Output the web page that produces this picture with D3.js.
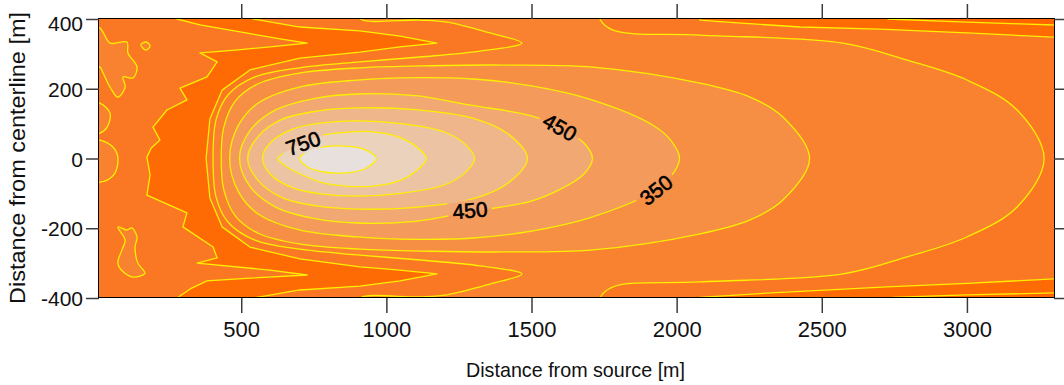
<!DOCTYPE html>
<html><head><meta charset="utf-8">
<script src="https://cdn.jsdelivr.net/npm/d3@7"></script>
<style>
html,body{margin:0;padding:0;background:#fff;}
svg{display:block;font-family:"Liberation Sans",Arial,sans-serif;}
</style></head><body>
<svg id="chart" width="1064" height="385"></svg>
<script>
// Axis ticks
const xTicks = [500, 1000, 1500, 2000, 2500, 3000];
const yTicks = [-400, -200, 0, 200, 400];

// Contour levels and the fill of each band (below first level ... above last level)
const levels = [-50, 50, 150, 250, 350, 450, 550, 650, 750, 850];
const bandColors = ["#ff6400", "#fe6b04", "#fa7824", "#f8822f", "#f68e44", "#f49b5b",
                    "#f2a873", "#efb68b", "#edc4a3", "#ebd2bd", "#e8e0dc"];

// Contour rings, [distance from source m, distance from centerline m]
// below 50: band between the source-side noise and the plume, and the far corners
const below50 = [
  [[279,430],[279,400],[358,383],[496,363],[634,343],[727,331],[599,320],[479,311],[358,303],
   [417,277],[382,234],[289,202],[313,168],[244,139],[196,90],[220,53],[190,30],[175,4],
   [186,-47],[175,-105],[313,-156],[299,-196],[403,-254],[417,-285],[348,-300],[599,-320],
   [727,-334],[530,-343],[382,-351],[324,-374],[279,-400],[279,-430],[541,-430],[541,-400],
   [702,-377],[909,-366],[1047,-351],[1174,-331],[1047,-320],[909,-311],[702,-288],[530,-254],
   [434,-196],[392,-113],[379,0],[392,113],[434,196],[530,254],[702,288],[909,305],[1047,320],
   [1174,331],[1047,351],[909,366],[702,377],[541,400],[541,430]],
  [[2060,430],[2081,397],[2173,391],[2425,377],[2701,371],[3000,360],[3297,348],[3330,347],[3330,430]],
  [[2060,-430],[2081,-398],[2311,-386],[2725,-368],[3000,-358],[3330,-344],[3330,-430]]
];
// below -50 along the far edges
const belowMinus50 = [
  [[2710,430],[2728,400],[3000,391],[3183,386],[3330,382],[3330,430]],
  [[2730,-430],[2745,-398],[3000,-391],[3330,-385],[3330,-430]]
];
// patches above 150 near the source
const patches150 = [
  [[-20,374],[13,374],[48,331],[106,334],[110,302],[141,262],[127,231],[93,234],[100,205],
   [75,176],[48,205],[24,245],[13,262],[-20,262]],
  [[154,326],[172,334],[186,323],[172,311]],
  [[75,-196],[106,-205],[123,-199],[141,-225],[134,-254],[144,-300],[168,-329],[127,-340],
   [93,-325],[75,-300],[89,-262],[100,-234]],
  [[-20,53],[13,53],[58,33],[75,4],[65,-42],[38,-62],[13,-68],[-20,-68]],
  [[-20,159],[13,159],[48,130],[38,90],[13,73],[-20,73]]
];
const above150 = [
  [[403,0],[413,110],[454,182],[547,234],[702,260],[909,277],[1116,291],[1323,308],[1467,331],
   [1357,360],[1209,391],[1116,397],[909,401],[909,430],[1736,430],[1736,400],[1781,368],
   [2081,354],[2573,331],[2794,282],[3000,225],[3173,139],[3266,0],[3173,-139],[3000,-225],
   [2794,-282],[2573,-331],[2081,-354],[1781,-368],[1736,-400],[1736,-430],[909,-430],[909,-401],
   [1116,-397],[1209,-391],[1357,-360],[1467,-331],[1323,-308],[1116,-291],[909,-277],[702,-260],
   [547,-234],[454,-182],[413,-110]]
];
const above250 = [
  [[431,0],[440,90],[480,165],[560,215],[700,245],[909,260],[1150,266],[1400,268],[1712,262],
   [2081,216],[2253,176],[2366,119],[2458,0],[2366,-119],[2253,-176],[2081,-216],[1712,-262],
   [1400,-268],[1150,-266],[909,-260],[700,-245],[560,-215],[480,-165],[440,-90]]
];
const above350 = [
  [[460,0],[490,95],[560,160],[700,205],[900,225],[1100,232],[1300,228],[1500,208],[1700,170],
   [1917,96],[1980,52],[2010,0],[1980,-52],[1917,-96],[1700,-170],[1500,-208],[1300,-228],
   [1100,-232],[900,-225],[700,-205],[560,-160],[490,-95]]
];
const above450 = [
  [[494,0],[530,80],[620,140],[750,172],[900,185],[1100,180],[1290,153],[1500,122],[1600,88],
   [1680,45],[1710,0],[1680,-45],[1600,-88],[1500,-122],[1290,-153],[1100,-180],[900,-185],
   [750,-172],[620,-140],[530,-80]]
];
const above550 = [
  [[522,0],[560,65],[640,112],[760,136],[900,145],[1100,140],[1300,115],[1420,70],[1486,0],
   [1420,-70],[1300,-115],[1100,-140],[900,-145],[760,-136],[640,-112],[560,-65]]
];
const above650 = [
  [[573,0],[600,45],[680,85],[780,102],[900,108],[1050,100],[1200,76],[1270,42],[1304,0],
   [1270,-42],[1200,-76],[1050,-100],[900,-108],[780,-102],[680,-85],[600,-45]]
];
const above750 = [
  [[625,0],[650,18],[713,44],[782,67],[860,75],[944,77],[1030,65],[1090,42],[1138,0],
   [1090,-44],[1030,-68],[944,-80],[860,-79],[782,-70],[713,-48],[650,-20]]
];
const above850 = [
  [[701,0],[730,22],[780,33],[830,36],[880,34],[930,24],[966,0],[930,-28],[880,-40],
   [830,-42],[780,-38],[730,-25]]
];

// Contour labels: level, position (m), text angle (deg)
const labelLevels = [750, 450, 450, 350];
const labelPos = [[713, 44], [1598, 90], [1288, -148], [1929, -90]];
const labelAngles = [-20, 30, -5, -38];

const W = 1064, H = 385;
const plot = {left: 99, right: 1054, top: 19, bottom: 298};

const svg = d3.select("#chart");
const x = d3.scaleLinear().domain([10, 3300]).range([plot.left, plot.right]);
const y = d3.scaleLinear().domain([-400, 400]).range([plot.bottom, plot.top]);

const defs = svg.append("defs");
defs.append("clipPath").attr("id", "plotClip")
  .append("rect").attr("x", plot.left).attr("y", plot.top)
  .attr("width", plot.right - plot.left).attr("height", plot.bottom - plot.top);

const smooth = d3.line().x(d => x(d[0])).y(d => y(d[1])).curve(d3.curveCatmullRomClosed.alpha(0.5));
const jagged = d3.line().x(d => x(d[0])).y(d => y(d[1])).curve(d3.curveLinearClosed);

// fill layers, painted from the lowest band upwards over the 50-150 base
const layers = [
  {rings: below50, color: bandColors[1], line: jagged},
  {rings: belowMinus50, color: bandColors[0], line: jagged},
  {rings: patches150, color: bandColors[3], line: smooth},
  {rings: above150, color: bandColors[3], line: smooth},
  {rings: above250, color: bandColors[4], line: smooth},
  {rings: above350, color: bandColors[5], line: smooth},
  {rings: above450, color: bandColors[6], line: smooth},
  {rings: above550, color: bandColors[7], line: smooth},
  {rings: above650, color: bandColors[8], line: smooth},
  {rings: above750, color: bandColors[9], line: smooth},
  {rings: above850, color: bandColors[10], line: smooth}
];

const gPlot = svg.append("g").attr("clip-path", "url(#plotClip)");
gPlot.append("rect").attr("x", plot.left).attr("y", plot.top)
  .attr("width", plot.right - plot.left).attr("height", plot.bottom - plot.top)
  .attr("fill", bandColors[2]);

layers.forEach(l => {
  gPlot.append("g").selectAll("path").data(l.rings).join("path")
    .attr("d", l.line).attr("fill", l.color).attr("stroke", "none");
});

// gaps in the contour lines under the labels
const mask = defs.append("mask").attr("id", "labelGaps");
mask.append("rect").attr("x", 0).attr("y", 0).attr("width", W).attr("height", H).attr("fill", "#fff");
labelLevels.forEach((lv, i) => {
  mask.append("rect").attr("x", -22).attr("y", -10).attr("width", 44).attr("height", 20)
    .attr("fill", "#000")
    .attr("transform", `translate(${x(labelPos[i][0])},${y(labelPos[i][1])}) rotate(${labelAngles[i]})`);
});

const gLines = gPlot.append("g").attr("mask", "url(#labelGaps)");
layers.forEach(l => {
  gLines.append("g").selectAll("path").data(l.rings).join("path")
    .attr("d", l.line).attr("fill", "none").attr("stroke", "#ffee00").attr("stroke-width", 1.3)
    .attr("stroke-linejoin", "round");
});

// contour labels
svg.append("g").selectAll("text").data(labelLevels).join("text")
  .attr("transform", (d, i) => `translate(${x(labelPos[i][0])},${y(labelPos[i][1])}) rotate(${labelAngles[i]})`)
  .attr("text-anchor", "middle").attr("dy", "0.36em")
  .attr("font-size", 21).attr("fill", "#000").attr("stroke", "#000").attr("stroke-width", 0.6)
  .text(d => d);

// frame
svg.append("rect").attr("x", plot.left - 0.5).attr("y", plot.top - 0.5)
  .attr("width", plot.right - plot.left + 1).attr("height", plot.bottom - plot.top)
  .attr("fill", "none").attr("stroke", "#000").attr("stroke-width", 1);

// axes
const tickColor = "#3c3c3c";
const plain = d => String(d);
function styleAxis(g) {
  g.select(".domain").remove();
  g.selectAll(".tick line").attr("stroke", tickColor).attr("stroke-width", 1.5);
  g.selectAll(".tick text").attr("fill", "#111").attr("font-family", "Liberation Sans, Arial, sans-serif");
}
svg.append("g").attr("transform", `translate(0,${plot.bottom})`)
  .call(d3.axisBottom(x).tickValues(xTicks).tickSize(15).tickPadding(8).tickFormat(plain))
  .call(styleAxis)
  .selectAll(".tick text").attr("font-size", 22);
svg.append("g").attr("transform", `translate(0,${plot.top})`)
  .call(d3.axisTop(x).tickValues(xTicks).tickSize(15).tickFormat(""))
  .call(styleAxis);
svg.append("g").attr("transform", `translate(${plot.left},0)`)
  .call(d3.axisLeft(y).tickValues(yTicks).tickSize(13).tickPadding(3).tickFormat(plain))
  .call(styleAxis)
  .selectAll(".tick text").attr("font-size", 21)
  .attr("dy", d => d === 400 ? "0.55em" : "0.36em");
svg.append("g").attr("transform", `translate(${plot.right},0)`)
  .call(d3.axisRight(y).tickValues(yTicks).tickSize(10).tickFormat(""))
  .call(styleAxis);

// axis titles
svg.append("text").attr("x", 575.5).attr("y", 377).attr("text-anchor", "middle")
  .attr("font-size", 21).attr("textLength", 219).attr("lengthAdjust", "spacingAndGlyphs")
  .attr("fill", "#111").text("Distance from source [m]");
svg.append("text").attr("transform", "translate(25,158) rotate(-90)").attr("text-anchor", "middle")
  .attr("font-size", 22).attr("textLength", 292).attr("lengthAdjust", "spacingAndGlyphs")
  .attr("fill", "#111").text("Distance from centerline [m]");
</script>
</body></html>
